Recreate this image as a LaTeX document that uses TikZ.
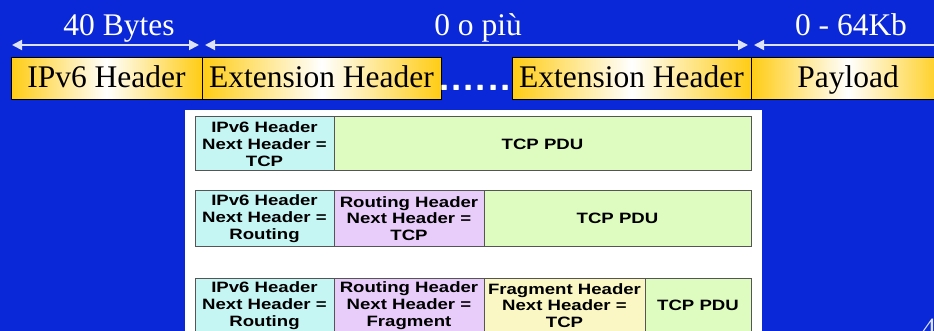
\documentclass[tikz,border=0pt]{standalone}
\usepackage{fontspec}
\setmainfont{Liberation Serif}
\newfontfamily\pdufont[FakeStretch=1.24]{Liberation Sans}
\usetikzlibrary{arrows.meta}

\definecolor{slideblue}{RGB}{10,40,215}
\definecolor{gold}{RGB}{255,204,20}
\definecolor{spanline}{RGB}{222,226,246}
\definecolor{pduline}{RGB}{85,85,85}
\definecolor{ipcyan}{RGB}{198,246,244}
\definecolor{rtlilac}{RGB}{232,204,250}
\definecolor{tcpgreen}{RGB}{222,251,192}
\definecolor{fragyellow}{RGB}{250,247,196}

\begin{document}
\begin{tikzpicture}[x=1pt,y=-1pt]
\tikzset{field/.style =
	{draw = black,
		line width = 1pt,
		left color = gold,
		right color = gold,
		middle color = white,
		minimum height = 42pt,
		inner sep = 0pt,
		text height = 25pt,
		text depth = 7pt,
		font = \fontsize{31.5}{36}\selectfont},
	sizetext/.style = {anchor = base, inner sep = 0pt, text = white,
		font = \fontsize{31.5}{36}\selectfont},
	span/.style = {draw = spanline, line width = 1.8pt,
		>={Triangle[length=10pt,width=10pt]}, <->},
	pdubox/.style = {draw = pduline, line width = 1pt,
		inner sep = 0pt, align = center,
		font = \pdufont\bfseries\fontsize{15}{16.7}\selectfont}}
\useasboundingbox (0,0) rectangle (934,331);
\fill[slideblue] (0,0) rectangle (934,331);

% packet layout
\node[field, minimum width=191pt] (ipv) at (106.5,79) {IPv6 Header};
\node[field, minimum width=239pt] (ext1) at (321.5,79) {Extension Header};
\node[anchor=base west, inner sep=0pt, text=white,
	font=\sffamily\bfseries\fontsize{40}{40}\selectfont] (dots) at (438,90.5) {......};
\node[field, minimum width=239pt] (ext2) at (631.5,79) {Extension Header};
\node[field, minimum width=194pt] (pay) at (848,79) {Payload};

% sizes
\coordinate (s1) at (12,45);  \coordinate (e1) at (199,45);
\coordinate (s2) at (205,45); \coordinate (e2) at (748,45);
\coordinate (s3) at (754,45); \coordinate (e3) at (952,45);
\draw[span] (s1) -- (e1);
\draw[span] (s2) -- (e2);
\draw[span] (s3) -- (e3);
\node[sizetext] (fixed) at (119,36) {40 Bytes};
\node[sizetext] (optional) at (478,36) {0 o più};
\node[sizetext] (payload) at (851,36) {0 - 64Kb};

% examples
\fill[white] (185,110) rectangle (762,345);
\node[pdubox, fill=ipcyan, minimum width=139pt, minimum height=54pt] (ipA) at (264.5,144)
	{IPv6 Header\\Next Header =\\TCP};
\node[pdubox, fill=tcpgreen, minimum width=417pt, minimum height=54pt] (tcpA) at (542.5,144)
	{TCP PDU};

\node[pdubox, fill=ipcyan, minimum width=139pt, minimum height=55pt] (ipB) at (264.5,218.5)
	{IPv6 Header\\Next Header =\\Routing};
\node[pdubox, fill=rtlilac, minimum width=150pt, minimum height=55pt] (rtB) at (409,218.5)
	{Routing Header\\Next Header =\\TCP};
\node[pdubox, fill=tcpgreen, minimum width=267pt, minimum height=55pt] (tcpB) at (617.5,218.5)
	{TCP PDU};

\node[pdubox, fill=ipcyan, minimum width=139pt, minimum height=55pt] (ipC) at (264.5,305.5)
	{IPv6 Header\\Next Header =\\Routing};
\node[pdubox, fill=rtlilac, minimum width=150pt, minimum height=55pt] (rtC) at (409,305.5)
	{Routing Header\\Next Header =\\Fragment};
\node[pdubox, fill=fragyellow, minimum width=161pt, minimum height=55pt] (frC) at (564.5,305.5)
	{Fragment Header\\Next Header =\\TCP};
\node[pdubox, fill=tcpgreen, minimum width=106pt, minimum height=55pt] (tcpC) at (698,305.5)
	{TCP PDU};

\node[anchor=base west, inner sep=0pt, text=spanline,
	font=\fontsize{28}{30}\selectfont] (pagenum) at (922,337) {4};
\end{tikzpicture}
\end{document}
